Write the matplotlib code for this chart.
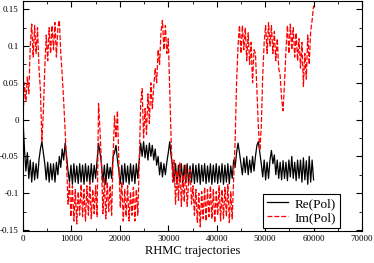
import numpy as np
import matplotlib
matplotlib.use("Agg")
import matplotlib.pyplot as plt
from matplotlib.ticker import MultipleLocator, FuncFormatter

# ..............................................................................
plt.rcParams["font.family"] = ["Liberation Serif", "DejaVu Serif"]
plt.rcParams["axes.unicode_minus"] = False

# ==============================================================================
# trajectory index, one sample every 300 trajectories
traj = np.arange(0, 60001, 300)

rePol = [
    0.000, -0.040, -0.070, -0.045, -0.080, -0.055, -0.085, -0.058, -0.082, -0.060,
    -0.080, -0.055, -0.040, -0.030, -0.045, -0.060, -0.082, -0.058, -0.085, -0.060,
    -0.082, -0.060, -0.085, -0.058, -0.075, -0.050, -0.065, -0.040, -0.055, -0.032,
    -0.050, -0.070, -0.085, -0.062, -0.088, -0.060, -0.085, -0.063, -0.087, -0.060,
    -0.085, -0.062, -0.088, -0.060, -0.084, -0.063, -0.087, -0.060, -0.085, -0.062,
    -0.080, -0.055, -0.032, -0.045, -0.060, -0.085, -0.062, -0.088, -0.060, -0.080,
    -0.065, -0.080, -0.050, -0.045, -0.035, -0.055, -0.070, -0.087, -0.062, -0.088,
    -0.060, -0.085, -0.063, -0.088, -0.060, -0.084, -0.062, -0.087, -0.060, -0.080,
    -0.055, -0.032, -0.050, -0.030, -0.052, -0.035, -0.055, -0.032, -0.050, -0.035,
    -0.055, -0.040, -0.062, -0.050, -0.075, -0.058, -0.078, -0.060, -0.075, -0.058,
    -0.045, -0.030, -0.050, -0.065, -0.085, -0.060, -0.088, -0.062, -0.085, -0.060,
    -0.087, -0.062, -0.085, -0.060, -0.088, -0.063, -0.085, -0.060, -0.087, -0.062,
    -0.085, -0.060, -0.088, -0.062, -0.084, -0.060, -0.087, -0.063, -0.085, -0.060,
    -0.088, -0.062, -0.085, -0.060, -0.087, -0.063, -0.085, -0.060, -0.088, -0.062,
    -0.085, -0.060, -0.087, -0.063, -0.080, -0.055, -0.065, -0.045, -0.032, -0.045,
    -0.060, -0.075, -0.052, -0.072, -0.050, -0.075, -0.055, -0.072, -0.050, -0.070,
    -0.050, -0.035, -0.030, -0.045, -0.060, -0.078, -0.055, -0.082, -0.058, -0.080,
    -0.055, -0.042, -0.060, -0.048, -0.075, -0.055, -0.080, -0.058, -0.082, -0.056,
    -0.080, -0.058, -0.083, -0.055, -0.078, -0.050, -0.080, -0.058, -0.083, -0.055,
    -0.080, -0.055, -0.085, -0.052, -0.082, -0.056, -0.088, -0.050, -0.085, -0.055,
    -0.082]

imPol = [
    0.000, 0.050, 0.025, 0.058, 0.035, 0.100, 0.130, 0.085, 0.128, 0.090,
    0.125, 0.070, 0.040, -0.030, 0.010, 0.070, 0.115, 0.080, 0.125, 0.090,
    0.128, 0.095, 0.132, 0.085, 0.125, 0.135, 0.090, 0.060, 0.025, -0.015,
    -0.060, -0.115, -0.085, -0.132, -0.090, -0.138, -0.095, -0.142, -0.098, -0.130,
    -0.088, -0.132, -0.095, -0.138, -0.090, -0.130, -0.085, -0.135, -0.095, -0.128,
    -0.090, -0.132, 0.022, -0.015, -0.060, -0.128, -0.080, -0.135, -0.085, -0.125,
    -0.090, -0.130, -0.050, 0.005, -0.025, 0.012, -0.060, -0.120, -0.085, -0.138,
    -0.095, -0.132, -0.090, -0.138, -0.098, -0.130, -0.092, -0.138, -0.095, -0.130,
    -0.060, 0.022, 0.042, -0.025, 0.015, -0.020, 0.035, -0.005, 0.050, 0.015,
    0.045, 0.070, 0.050, 0.095, 0.075, 0.120, 0.135, 0.095, 0.128, 0.090,
    0.110, 0.040, -0.030, -0.085, -0.055, -0.115, -0.070, -0.110, -0.058, -0.118,
    -0.075, -0.112, -0.062, -0.118, -0.085, -0.068, -0.115, -0.090, -0.130, -0.095,
    -0.140, -0.100, -0.146, -0.098, -0.135, -0.092, -0.138, -0.095, -0.132, -0.090,
    -0.135, -0.095, -0.140, -0.098, -0.130, -0.090, -0.138, -0.095, -0.135, -0.092,
    -0.132, -0.088, -0.140, -0.098, -0.135, -0.080, -0.030, 0.050, 0.100, 0.128,
    0.090, 0.128, 0.095, 0.125, 0.080, 0.118, 0.075, 0.105, 0.050, 0.095,
    0.090, 0.040, -0.010, -0.042, -0.010, 0.060, 0.105, 0.128, 0.090, 0.132,
    0.100, 0.128, 0.090, 0.120, 0.080, 0.110, 0.070, 0.060, 0.028, 0.012,
    0.050, 0.095, 0.128, 0.090, 0.130, 0.095, 0.125, 0.085, 0.118, 0.080,
    0.110, 0.070, 0.105, 0.045, 0.090, 0.055, 0.115, 0.075, 0.120, 0.135,
    0.155]

# ==============================================================================
fig = plt.figure(figsize=(3.74, 2.63), dpi=100)
ax = fig.add_axes([23/374, 32/263, 339/374, 230/263])

ax.plot(traj, rePol, color="black", lw=0.9, label="Re(Pol)")
ax.plot(traj, imPol, color="red", lw=0.9, ls=(0, (4, 1.5)), label="Im(Pol)")

ax.set_xlim(0, 70000)
ax.set_ylim(-0.1515, 0.1613)

ax.xaxis.set_major_locator(MultipleLocator(10000))
ax.xaxis.set_minor_locator(MultipleLocator(5000))
ax.yaxis.set_major_locator(MultipleLocator(0.05))
ax.yaxis.set_minor_locator(MultipleLocator(0.025))
ax.yaxis.set_major_formatter(FuncFormatter(lambda v, p: "%g" % round(v, 3)))

ax.tick_params(which="both", direction="in", top=True, right=True, labelsize=6.5, pad=3)
ax.tick_params(which="major", length=4)
ax.tick_params(which="minor", length=2)
for s in ax.spines.values():
    s.set_linewidth(0.8)

ax.set_xlabel("RHMC trajectories", fontsize=9, labelpad=1)

leg = ax.legend(loc="lower right", bbox_to_anchor=(0.935, 0.013), fontsize=9.5,
                frameon=True, fancybox=False, edgecolor="black", framealpha=1,
                handlelength=1.6, handletextpad=0.5, borderpad=0.3, labelspacing=0.15,
                borderaxespad=0)
leg.get_frame().set_linewidth(0.8)

fig.savefig("out.png", dpi=100)
